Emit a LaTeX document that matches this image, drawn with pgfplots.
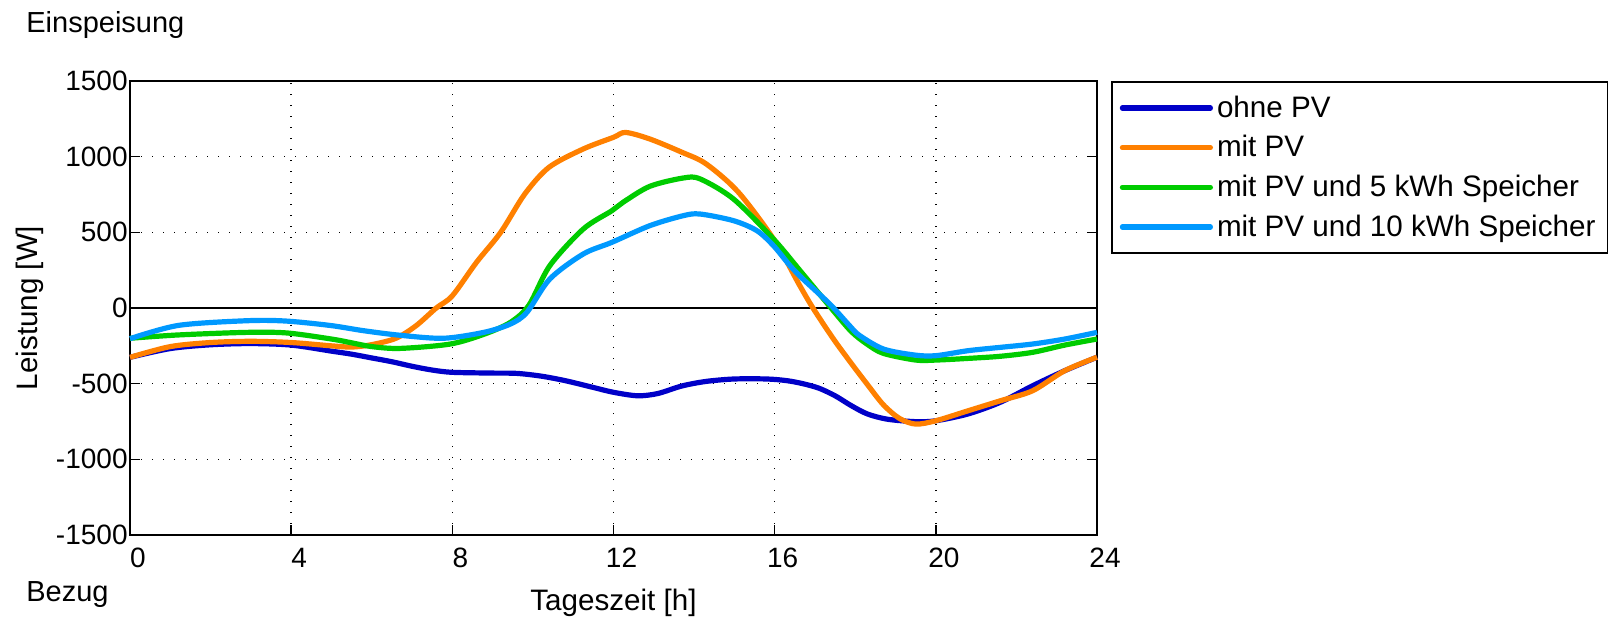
\documentclass[border=0pt]{standalone}
\usepackage{fontspec}
\setmainfont{Liberation Sans}
\usepackage{pgfplots}
\pgfplotsset{compat=1.18}
\definecolor{cdblue}{RGB}{0,0,200}
\definecolor{corange}{RGB}{255,128,0}
\definecolor{cgreen}{RGB}{0,204,0}
\definecolor{clblue}{RGB}{0,153,255}
\begin{document}
\begin{tikzpicture}
\path[use as bounding box] (-65pt,-41pt) rectangle (740pt,267.5pt);
\begin{axis}[
  at={(0,0)}, anchor=south west,
  scale only axis, width=483.5pt, height=227pt,
  xmin=0, xmax=24, ymin=-1500, ymax=1500,
  xtick={0,4,...,24}, ytick={-1500,-1000,...,1500},
  xtick pos=left, ytick pos=both,
  tick align=inside, major tick length=5pt,
  tick style={black, line width=0.8pt},
  axis line style={line width=0.9pt},
  grid=major,
  major grid style={black, line width=0.7pt, dash pattern=on 0.7pt off 4.8pt},
  font=\fontsize{14}{16}\selectfont,
  /pgf/number format/assume math mode=true,
  /pgf/number format/1000 sep={},
  xticklabel style={xshift=4pt, yshift=-3pt},
  yticklabel style={inner sep=1pt},
  xlabel={Tageszeit [h]},
  xlabel style={at={(axis description cs:0.5,-0.149)}, anchor=center, font=\fontsize{14.8}{17}\selectfont},
  ylabel={Leistung [W]},
  ylabel style={at={(axis description cs:-0.1035,0.5)}, anchor=center, font=\fontsize{14.8}{17}\selectfont},
  clip=false,
  legend style={at={(1,1)}, anchor=north west, xshift=7pt,
    draw=black, line width=0.8pt, font=\fontsize{14.8}{17}\selectfont,
    row sep=3.6pt, inner xsep=4pt, inner ysep=5pt},
  legend cell align=left,
  legend image code/.code={\draw[#1, line cap=round] (0pt,0pt) -- (44pt,0pt);},
  every axis plot/.append style={line width=2.6pt, line join=round},
]
\addplot[black, line width=0.9pt, forget plot] coordinates {(0,0) (24,0)};
% ohne PV
\addplot[cdblue, smooth] coordinates {
(0,-326) (1,-268) (2,-243) (3,-235) (4,-245) (5,-285) (5.5,-305) (6,-330) (6.5,-355)
(7,-385) (7.5,-410) (8,-425) (9,-430) (9.6,-432) (10.2,-450) (10.8,-480) (11.5,-525)
(12,-557) (12.6,-580) (13.1,-565) (13.7,-515) (14.3,-485) (15,-469) (15.8,-469)
(16.3,-480) (16.7,-500) (17.1,-530) (17.5,-580) (17.9,-645) (18.3,-700) (18.8,-735)
(19.5,-751) (20,-745) (20.8,-700) (21.6,-623) (22.4,-514) (23.2,-414) (24,-325)};
\addlegendentry{ohne PV}
% mit PV
\addplot[corange, smooth] coordinates {
(0,-326) (1,-255) (2,-228) (3,-220) (4,-228) (5,-250) (5.5,-258) (6,-242) (6.6,-200)
(7.1,-117) (7.6,0) (8,81) (8.6,302) (9.2,500) (9.8,754) (10.4,930) (11.25,1051)
(12,1128) (12.3,1160) (12.9,1117) (13.7,1029) (14.3,952) (15.1,765) (16,445)
(16.6,159) (16.95,0) (17.46,-205) (17.9,-365) (18.3,-505) (18.7,-640) (19.1,-730)
(19.5,-767) (20,-745) (20.8,-679) (21.6,-613) (22.4,-547) (23.2,-414) (24,-325)};
\addlegendentry{mit PV}
% mit PV und 5 kWh
\addplot[cgreen, smooth] coordinates {
(0,-200) (1.2,-178) (2.9,-161) (3.9,-165) (5,-205) (5.5,-230) (6,-255) (6.7,-267)
(7.95,-238) (8.8,-172) (9.44,-95) (9.9,18) (10.42,280) (11.25,522) (11.96,643)
(12.24,699) (12.9,804) (13.73,859) (14.15,853) (14.98,720) (15.97,456) (16.63,247)
(17.4,0) (17.9,-155) (18.3,-240) (18.7,-300) (19.5,-344) (20,-344) (20.8,-333)
(21.6,-319) (22.4,-293) (23.2,-245) (24,-205)};
\addlegendentry{mit PV und 5 kWh Speicher}
% mit PV und 10 kWh
\addplot[clblue, smooth] coordinates {
(0,-203) (1.2,-115) (2.9,-84) (3.86,-86) (4.96,-115) (5.8,-150)
(6.7,-180) (7.78,-200) (8.78,-161) (9.44,-106) (9.85,-29) (10.42,192) (11.25,357)
(11.96,434) (12.9,544) (13.73,610) (14.15,621) (14.98,577) (15.56,511) (15.97,412)
(16.38,280) (16.7,192) (17.37,26) (17.86,-117) (18.1,-180) (18.7,-271) (19.48,-311)
(20,-315) (20.8,-282) (21.6,-260) (22.4,-238) (23.2,-205) (24,-161)};
\addlegendentry{mit PV und 10 kWh Speicher}
\node[anchor=base west, inner sep=0pt, xshift=-52pt, yshift=24.5pt] at (rel axis cs:0,1) {\fontsize{14.5}{16}\selectfont Einspeisung};
\node[anchor=base west, inner sep=0pt, xshift=-52pt, yshift=-33pt] at (rel axis cs:0,0) {\fontsize{14.5}{16}\selectfont Bezug};
\end{axis}
\end{tikzpicture}
\end{document}
